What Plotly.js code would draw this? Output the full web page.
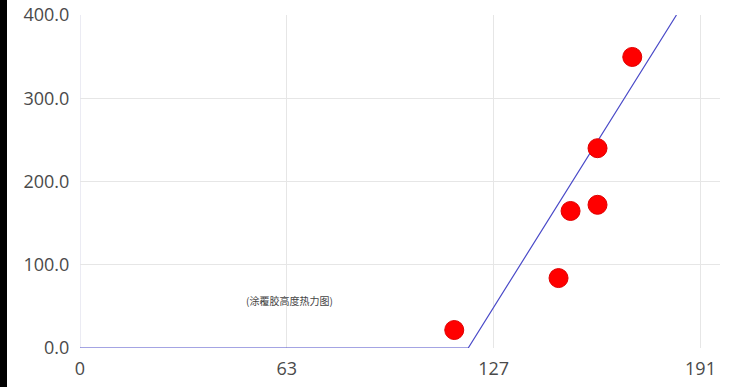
<!DOCTYPE html>
<html><head><meta charset="utf-8">
<script src="https://cdn.plot.ly/plotly-3.0.1.min.js"></script>
<style>html,body{margin:0;padding:0;background:#fff;}#strip{position:absolute;left:0;top:0;width:7px;height:387px;background:#000;z-index:10;}</style>
</head><body><div id="strip"></div><div id="chart" style="width:736px;height:387px;"></div>
<script>
const pointX = [115.2, 147.3, 151.0, 159.3, 159.3, 170.0];
const pointY = [21.6, 84.0, 164.6, 172.0, 240.0, 349.6];
const lineX = [0, 119.5, 183.6];
const lineY = [0, 0, 400];
const xTickVals = [0, 63.67, 127.33, 191];
const xTickText = ['0', '63', '127', '191'];
const yTickVals = [0, 100, 200, 300, 400];
const yTickText = ['0.0', '100.0', '200.0', '300.0', '400.0'];

Plotly.newPlot('chart', [
  {x: lineX, y: lineY, mode: 'lines', line: {color: '#4a4ac8', width: 1.2}, hoverinfo: 'none'},
  {x: pointX, y: pointY, mode: 'markers', marker: {color: '#ff0000', size: 19, line: {color: '#e00000', width: 1}}}
], {
  width: 736, height: 387,
  margin: {l: 80, r: 16, t: 15, b: 39},
  paper_bgcolor: '#fff', plot_bgcolor: '#fff',
  showlegend: false,
  font: {family: 'Open Sans, sans-serif', color: '#4a4a4a'},
  xaxis: {range: [0, 197], tickvals: xTickVals, ticktext: xTickText, showgrid: true, gridcolor: '#e6e6e6',
    zeroline: false, showline: false, ticks: 'outside', ticklen: 4, tickcolor: 'rgba(0,0,0,0)', tickfont: {size: 18, color: '#4a4a4a'}},
  yaxis: {range: [0, 400], tickvals: yTickVals, ticktext: yTickText, showgrid: true, gridcolor: '#e6e6e6',
    zeroline: false, showline: false, ticks: 'outside', ticklen: 6, tickcolor: 'rgba(0,0,0,0)', tickfont: {size: 18, color: '#4a4a4a'}},
  annotations: [{text: '(涂覆胶高度热力图)', x: 0.328, y: 0.144, xref: 'paper', yref: 'paper', xanchor: 'center', yanchor: 'middle', showarrow: false,
    font: {family: 'Noto Sans CJK SC', size: 10, color: '#444'}}],
  shapes: [{type: 'line', xref: 'x', yref: 'paper', x0: 0, x1: 0, y0: 0, y1: 1, line: {color: '#d8d8e8', width: 1}, layer: 'below'}]
}, {displayModeBar: false, staticPlot: true});
</script></body></html>
